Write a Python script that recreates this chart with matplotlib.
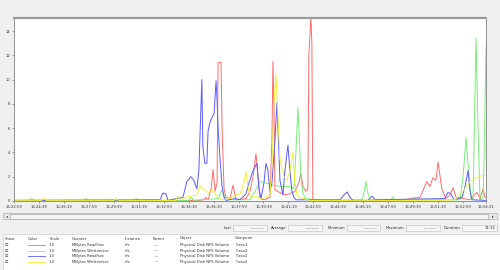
import matplotlib
matplotlib.use("Agg")
import matplotlib.pyplot as plt
from matplotlib.patches import Rectangle

# time axis: seconds since 16:22:59 (duration 31:32)
red_t = [0, 590, 740, 762, 769, 778, 790, 798, 806, 814, 818, 830, 834, 842, 850, 866, 878, 890,
         930, 946, 958, 970, 978, 986, 1002, 1026, 1034, 1038, 1042, 1046, 1066, 1086, 1106, 1126,
         1142, 1150, 1158, 1170, 1178, 1182, 1190, 1194, 1198, 1226, 1547, 1627, 1655, 1667, 1679,
         1691, 1700, 1708, 1715, 1731, 1747, 1760, 1772, 1828, 1856, 1868, 1880, 1888, 1892]
red_v = [0.05, 0.05, 0.05, 0.1, 0.3, 0.1, 1.0, 2.6, 0.8, 1.5, 11.4, 11.4, 6.0, 1.0, 0.3, 0.2, 1.3, 0.1,
         0.2, 0.8, 2.0, 3.9, 2.0, 0.2, 0.1, 0.3, 5.0, 11.5, 8.0, 0.9, 0.7, 0.5, 0.6, 0.8,
         1.5, 2.3, 1.2, 0.8, 1.0, 12.0, 15.2, 13.0, 0.1, 0.05, 0.05, 0.3, 1.6, 1.2, 1.9,
         1.7, 3.2, 2.0, 1.0, 0.2, 0.5, 1.1, 0.3, 0.1, 0.7, 0.2, 1.0, 0.3, 0.3]

green_t = [0, 60, 70, 80, 280, 290, 300, 480, 490, 500, 700, 710, 720, 818, 834, 850, 946, 966, 986,
           1006, 1038, 1066, 1106, 1122, 1130, 1138, 1142, 1150, 1158, 1170, 1206, 1246, 1395, 1403,
           1411, 1419, 1427, 1511, 1519, 1527, 1587, 1599, 1611, 1788, 1800, 1812, 1824, 1832, 1840,
           1852, 1860, 1868, 1880, 1884, 1892]
green_v = [0.05, 0.05, 0.2, 0.05, 0.05, 0.2, 0.05, 0.05, 0.2, 0.05, 0.05, 0.3, 0.05, 0.2, 0.9, 0.1,
           0.1, 0.8, 1.6, 1.5, 1.3, 1.2, 1.2, 1.0, 4.0, 7.7, 6.0, 2.0, 0.6, 0.2, 0.1, 0.05, 0.1, 0.7,
           1.6, 0.6, 0.1, 0.1, 0.35, 0.1, 0.1, 0.3, 0.1, 0.1, 2.0, 5.2, 2.0, 0.3, 0.2,
           13.4, 6.0, 0.1, 0.3, 3.0, 12.7]

blue_t = [0, 585, 597, 609, 617, 677, 693, 709, 721, 733, 741, 753, 757, 765, 773, 778, 786, 794, 802,
          810, 814, 818, 826, 834, 842, 850, 886, 906, 930, 942, 958, 974, 982, 990, 1002, 1010, 1018,
          1026, 1034, 1046, 1054, 1062, 1066, 1078, 1086, 1098, 1106, 1114, 1122, 1130, 1307, 1323,
          1335, 1347, 1359, 1419, 1435, 1447, 1727, 1739, 1751, 1764, 1796, 1808, 1820, 1828, 1836, 1892]
blue_v = [0.05, 0.1, 0.65, 0.6, 0.05, 0.3, 1.6, 2.0, 1.7, 1.0, 2.5, 10.0, 4.5, 3.1, 3.1, 5.8, 6.5, 6.9,
          7.2, 9.9, 8.3, 6.1, 3.4, 1.2, 0.3, 0.05, 0.2, 0.1, 0.6, 1.5, 2.5, 3.1, 1.0, 0.2, 1.5, 3.1, 2.5,
          0.8, 1.5, 5.0, 8.1, 4.0, 1.7, 0.5, 2.5, 4.6, 2.5, 0.8, 0.3, 0.1, 0.1, 0.5,
          0.75, 0.3, 0.05, 0.05, 0.4, 0.1, 0.2, 0.7, 0.6, 0.1, 0.3, 1.2, 2.5, 0.8, 0.1, 0.05]

yellow_t = [0, 110, 120, 130, 400, 410, 420, 649, 657, 665, 685, 733, 745, 757, 778, 794, 806, 818, 834,
            866, 890, 906, 922, 930, 938, 946, 966, 986, 1006, 1026, 1034, 1042, 1050, 1058, 1066,
            1074, 1082, 1094, 1106, 1118, 1126, 1134, 1146, 1186, 1708, 1768, 1788, 1804, 1828,
            1852, 1876, 1892]
yellow_v = [0.05, 0.05, 0.25, 0.05, 0.05, 0.2, 0.05, 0.05, 0.4, 0.1, 0.3, 0.5, 1.3, 1.0, 0.7, 0.9, 0.6,
            0.3, 0.1, 0.2, 0.5, 0.6, 1.5, 2.4, 1.2, 0.4, 0.4, 0.2, 0.3, 0.5, 3.0, 8.0, 10.4, 7.0, 3.5,
            2.7, 2.0, 1.7, 2.5, 4.0, 1.5, 0.5, 0.3, 0.05, 0.05, 0.1, 0.6, 0.9, 1.6,
            1.9, 2.1, 2.1]

tick_sec = [0, 100, 200, 300, 400, 500, 600, 700, 800, 900, 1000, 1100, 1200, 1300, 1400, 1500,
            1600, 1700, 1800, 1892]
tick_labels = ["16:22:59", "16:24:39", "16:26:19", "16:27:59", "16:29:39", "16:31:19", "16:32:59",
               "16:34:39", "16:36:19", "16:37:59", "16:39:39", "16:41:19", "16:42:59", "16:44:39",
               "16:46:19", "16:47:59", "16:49:39", "16:51:19", "16:52:59", "16:54:31"]

row_colors = ["#ff6a6a", "#78ee78", "#5a5aff", "#f2f230"]
row_counters = ["MBytes Read/sec", "MBytes Written/sec", "MBytes Read/sec", "MBytes Written/sec"]
row_computers = ["\\\\esx1", "\\\\esx2", "\\\\esx2", "\\\\esx2"]

W, H = 500, 270
fs = 2.7
tc = "#303030"

fig = plt.figure(figsize=(5, 2.7), dpi=100)
fig.patch.set_facecolor("#f0f0f0")


def px(x, y):
    return x / W, 1 - y / H


def ftext(x, y, s, **kw):
    fx, fy = px(x, y)
    fig.text(fx, fy, s, fontsize=fs, color=tc, va="center", **kw)


def frect(x0, y0, x1, y1, fc="white", ec="#a0a0a0", lw=0.5):
    fx, fy = px(x0, y1)
    fig.patches.append(Rectangle((fx, fy), (x1 - x0) / W, (y1 - y0) / H, transform=fig.transFigure,
                                 facecolor=fc, edgecolor=ec, linewidth=lw))


ax = fig.add_axes([14 / W, 1 - 201 / H, 472 / W, 182.7 / H])
ax.set_facecolor("white")
ax.plot(red_t, red_v, color=row_colors[0], lw=0.7)
ax.plot(green_t, green_v, color=row_colors[1], lw=0.7)
ax.plot(blue_t, blue_v, color=row_colors[2], lw=0.7)
ax.plot(yellow_t, yellow_v, color=row_colors[3], lw=0.7)
ax.set_xlim(0, 1892)
ax.set_ylim(0, 15.05)
ax.set_yticks(range(0, 15, 2))
ax.set_xticks(tick_sec)
ax.set_xticklabels(tick_labels)
ax.tick_params(labelsize=fs, colors="#606060", labelcolor=tc, length=1.5, width=0.4, pad=1.5)
for s in ["left", "bottom", "right"]:
    ax.spines[s].set_color("#808080")
    ax.spines[s].set_linewidth(0.6)
ax.spines["top"].set_color("#9a9a9a")
ax.spines["top"].set_linewidth(1.6)
ax.spines["top"].set_linestyle((0, (1, 1)))

# scrollbar
frect(3, 213, 497, 219, fc="#e8e8e8", ec="#b0b0b0")
frect(10, 213.5, 488, 218.5, fc="#f4f4f4", ec="#a8a8a8")
ftext(6.5, 216, "◂", ha="center")
ftext(492.5, 216, "▸", ha="center")

# statistics row
stats = [("Last", 233, 267), ("Average", 288, 322), ("Minimum", 347, 380),
         ("Maximum", 406, 440), ("Duration", 462, 497)]
for name, b0, b1 in stats:
    ftext(b0 - 2, 228, name, ha="right")
    frect(b0, 225, b1, 231, fc="#f6f6f6", ec="#c8c8c8")
    ftext(b1 - 2, 228, "31:32" if name == "Duration" else "----------", ha="right")

# legend table
frect(3, 234, 500, 271, fc="white", ec="#d0d0d0")
headers = [("Show", 5), ("Color", 28), ("Scale", 50), ("Counter", 72), ("Instance", 125),
           ("Parent", 153), ("Object", 180), ("Computer", 235)]
for h, x in headers:
    ftext(x, 238.5, h, ha="left")
for i in range(4):
    y = 245 + i * 5.6
    ftext(5, y, "☑", ha="left")
    fx0, fy = px(28, y)
    fx1, _ = px(45, y)
    fig.add_artist(plt.Line2D([fx0, fx1], [fy, fy], transform=fig.transFigure,
                              color=row_colors[i], lw=0.6))
    ftext(49, y, "1.0", ha="left")
    ftext(72, y, row_counters[i], ha="left")
    ftext(125, y, "nfs", ha="left")
    ftext(155, y, "---", ha="left")
    ftext(180, y, "Physical Disk NFS Volume", ha="left")
    ftext(236, y, row_computers[i], ha="left")

fig.savefig("out.png", dpi=100, facecolor=fig.get_facecolor())
